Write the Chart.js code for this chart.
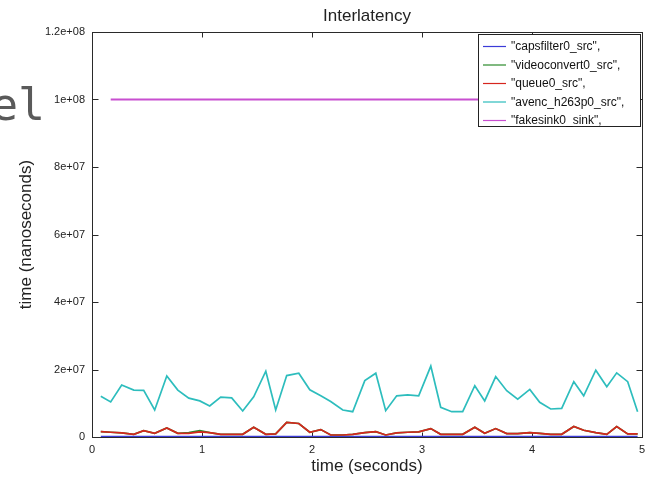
<!DOCTYPE html>
<html><head><meta charset="utf-8">
<script src="https://cdn.jsdelivr.net/npm/chart.js@4.4.0/dist/chart.umd.min.js"></script>
<style>
html,body{margin:0;padding:0;background:#fff;overflow:hidden}
#c{display:block}
</style></head><body>
<canvas id="c" width="646" height="477"></canvas>
<script>
const chartTitle = 'Interlatency';
const xAxisTitle = 'time (seconds)';
const yAxisTitle = 'time (nanoseconds)';
const overlayText = 'el';
const seriesNames = ['"capsfilter0_src",', '"videoconvert0_src",', '"queue0_src",', '"avenc_h263p0_src",', '"fakesink0_sink",'];
const xTickLabels = ['0', '1', '2', '3', '4', '5'];
const yTickLabels = ['0', '2e+07', '4e+07', '6e+07', '8e+07', '1e+08', '1.2e+08'];

const times = [0.08,0.17,0.27,0.38,0.47,0.57,0.68,0.78,0.88,0.98,
               1.07,1.17,1.27,1.37,1.47,1.58,1.67,1.77,1.88,1.98,
               2.08,2.17,2.28,2.37,2.48,2.58,2.67,2.77,2.87,2.97,
               3.08,3.17,3.27,3.37,3.48,3.57,3.67,3.77,3.87,3.98,
               4.07,4.17,4.27,4.38,4.47,4.58,4.68,4.77,4.87,4.96];

const capsfilterSrc = [0.12e6,0.12e6,0.12e6,0.12e6,0.12e6,0.12e6,0.12e6,0.12e6,0.12e6,0.12e6,
                       0.12e6,0.12e6,0.12e6,0.12e6,0.12e6,0.12e6,0.12e6,0.12e6,0.12e6,0.12e6,
                       0.12e6,0.12e6,0.12e6,0.12e6,0.12e6,0.12e6,0.12e6,0.12e6,0.12e6,0.12e6,
                       0.12e6,0.12e6,0.12e6,0.12e6,0.12e6,0.12e6,0.12e6,0.12e6,0.12e6,0.12e6,
                       0.12e6,0.12e6,0.12e6,0.12e6,0.12e6,0.12e6,0.12e6,0.12e6,0.12e6,0.12e6];

const videoconvertSrc = [1.6e6,1.4e6,1.2e6,0.8e6,1.9e6,1.1e6,2.7e6,1.1e6,1.3e6,1.9e6,
                         1.3e6,0.8e6,0.8e6,0.8e6,2.9e6,0.8e6,0.9e6,4.3e6,4.0e6,1.4e6,
                         2.2e6,0.6e6,0.6e6,0.8e6,1.3e6,1.6e6,0.6e6,1.2e6,1.4e6,1.5e6,
                         2.5e6,0.8e6,0.8e6,0.8e6,2.9e6,1.1e6,2.5e6,1.0e6,1.0e6,1.3e6,
                         1.1e6,0.8e6,0.8e6,3.1e6,2.0e6,1.3e6,0.8e6,3.1e6,0.9e6,0.9e6];

const queueSrc = [1.6e6,1.4e6,1.2e6,0.8e6,1.9e6,1.1e6,2.7e6,1.1e6,1.1e6,1.5e6,
                  1.3e6,0.8e6,0.8e6,0.8e6,2.9e6,0.8e6,0.9e6,4.3e6,4.0e6,1.4e6,
                  2.2e6,0.6e6,0.6e6,0.8e6,1.3e6,1.6e6,0.6e6,1.2e6,1.4e6,1.5e6,
                  2.5e6,0.8e6,0.8e6,0.8e6,2.9e6,1.1e6,2.5e6,1.0e6,1.0e6,1.3e6,
                  1.1e6,0.8e6,0.8e6,3.1e6,2.0e6,1.3e6,0.8e6,3.1e6,0.9e6,0.9e6];

const avencSrc = [12.1e6,10.4e6,15.4e6,13.9e6,13.8e6,8.0e6,18.1e6,13.9e6,11.5e6,10.7e6,
                  9.2e6,11.8e6,11.6e6,7.7e6,11.9e6,19.5e6,8.0e6,18.2e6,18.9e6,14.0e6,
                  12.2e6,10.5e6,8.0e6,7.5e6,16.7e6,18.9e6,7.8e6,12.2e6,12.5e6,12.2e6,
                  21.0e6,8.8e6,7.5e6,7.5e6,15.2e6,10.7e6,17.9e6,13.7e6,11.2e6,14.1e6,
                  10.3e6,8.3e6,8.5e6,16.4e6,12.2e6,19.8e6,14.9e6,19.0e6,16.4e6,7.5e6];

const fakesinkSink = [null,100.0e6,100.0e6,100.0e6,100.0e6,100.0e6,100.0e6,100.0e6,100.0e6,100.0e6,
                      100.0e6,100.0e6,100.0e6,100.0e6,100.0e6,100.0e6,100.0e6,100.0e6,100.0e6,100.0e6,
                      100.0e6,100.0e6,100.0e6,100.0e6,100.0e6,100.0e6,100.0e6,100.0e6,100.0e6,100.0e6,
                      100.0e6,100.0e6,100.0e6,100.0e6,100.0e6,100.0e6,100.0e6,100.0e6,100.0e6,100.0e6,
                      100.0e6,100.0e6,100.0e6,100.0e6,100.0e6,100.0e6,100.0e6,100.0e6,100.0e6,100.0e6];

const seriesValues = [capsfilterSrc, videoconvertSrc, queueSrc, avencSrc, fakesinkSink];
const seriesColors = ['#3b3bd8', '#2a8a2a', '#d6261e', '#2dbdbd', '#c84fd0'];

const FONT = '"Liberation Sans", Arial, Helvetica, sans-serif';
Chart.defaults.font.family = FONT;
Chart.defaults.color = '#222';

const datasets = seriesValues.map((vals, i) => ({
  label: seriesNames[i],
  data: vals.map((v, k) => ({x: times[k], y: v})),
  borderColor: seriesColors[i],
  backgroundColor: seriesColors[i],
  borderWidth: i === 4 ? 2 : 1.7,
  pointRadius: 0,
  tension: 0,
  fill: false,
  order: seriesValues.length - 1 - i
}));

const framePlugin = {
  id: 'frame',
  beforeDatasetsDraw(chart) {
    const {ctx, chartArea: a, scales: {x, y}} = chart;
    ctx.save();
    ctx.strokeStyle = '#2a2a2a';
    ctx.lineWidth = 1;
    const L = Math.round(a.left) + 0.5, R = Math.round(a.right) + 0.5;
    const T = Math.round(a.top) + 0.5, B = Math.round(a.bottom) + 0.5;
    ctx.strokeRect(L, T, R - L, B - T);
    ctx.beginPath();
    x.ticks.forEach(t => {
      const px = Math.round(x.getPixelForValue(t.value)) + 0.5;
      ctx.moveTo(px, B); ctx.lineTo(px, B - 5);
      ctx.moveTo(px, T); ctx.lineTo(px, T + 5);
    });
    y.ticks.forEach(t => {
      const py = Math.round(y.getPixelForValue(t.value)) + 0.5;
      ctx.moveTo(L, py); ctx.lineTo(L + 6, py);
      ctx.moveTo(R, py); ctx.lineTo(R - 6, py);
    });
    ctx.stroke();
    ctx.restore();
  },
  afterDraw(chart) {
    const ctx = chart.ctx;
    ctx.save();
    ctx.font = '45px "DejaVu Sans Mono", monospace';
    ctx.fillStyle = '#5a5a5a';
    ctx.textBaseline = 'alphabetic';
    ctx.textAlign = 'left';
    ctx.fillText(overlayText, -9, 120);
    ctx.restore();
  }
};

const keyPlugin = {
  id: 'key',
  afterDatasetsDraw(chart) {
    const ctx = chart.ctx;
    const bx = 478.5, by = 34.5, bw = 162, bh = 92;
    ctx.save();
    ctx.fillStyle = '#fff';
    ctx.fillRect(bx, by, bw, bh);
    ctx.strokeStyle = '#222';
    ctx.lineWidth = 1;
    ctx.strokeRect(bx, by, bw, bh);
    ctx.font = '12px ' + FONT;
    ctx.textBaseline = 'middle';
    ctx.textAlign = 'left';
    chart.data.datasets.forEach((ds, i) => {
      const yy = 46.5 + 18.5 * i;
      ctx.strokeStyle = ds.borderColor;
      ctx.lineWidth = 1.2;
      ctx.beginPath();
      ctx.moveTo(483, yy); ctx.lineTo(506, yy);
      ctx.stroke();
      ctx.fillStyle = '#111';
      ctx.fillText(ds.label, 511, yy + 0.5);
    });
    ctx.restore();
  }
};

new Chart(document.getElementById('c'), {
  type: 'line',
  data: {datasets},
  options: {
    responsive: false,
    animation: false,
    devicePixelRatio: 1,
    layout: {padding: {top: 0, right: 4, bottom: 0, left: 0}},
    plugins: {
      legend: {display: false},
      tooltip: {enabled: false},
      title: {
        display: true,
        text: chartTitle,
        fullSize: false,
        color: '#222',
        font: {size: 17, weight: 'normal', family: FONT},
        padding: {top: 6, bottom: 5.6}
      }
    },
    scales: {
      x: {
        type: 'linear',
        min: 0, max: 5,
        grid: {display: false, drawTicks: false, tickLength: 0},
        border: {display: false},
        ticks: {
          stepSize: 1,
          color: '#222',
          font: {size: 11},
          padding: 6,
          maxRotation: 0,
          callback: (v, i) => xTickLabels[i]
        },
        title: {display: true, text: xAxisTitle, color: '#222', font: {size: 17}, padding: {top: 0, bottom: 0}},
        afterFit: s => { s.height = 40; s.paddingRight = 0; s.paddingLeft = 0; }
      },
      y: {
        type: 'linear',
        min: 0, max: 1.2e8,
        grid: {display: false, drawTicks: false, tickLength: 0},
        border: {display: false},
        ticks: {
          stepSize: 2e7,
          color: '#222',
          font: {size: 11},
          padding: 7,
          callback: (v, i) => yTickLabels[i]
        },
        title: {display: true, text: yAxisTitle, color: '#222', font: {size: 17}, padding: {top: 16, bottom: 0}},
        afterFit: s => { s.width = 92; }
      }
    }
  },
  plugins: [framePlugin, keyPlugin]
});
</script>
</body></html>
